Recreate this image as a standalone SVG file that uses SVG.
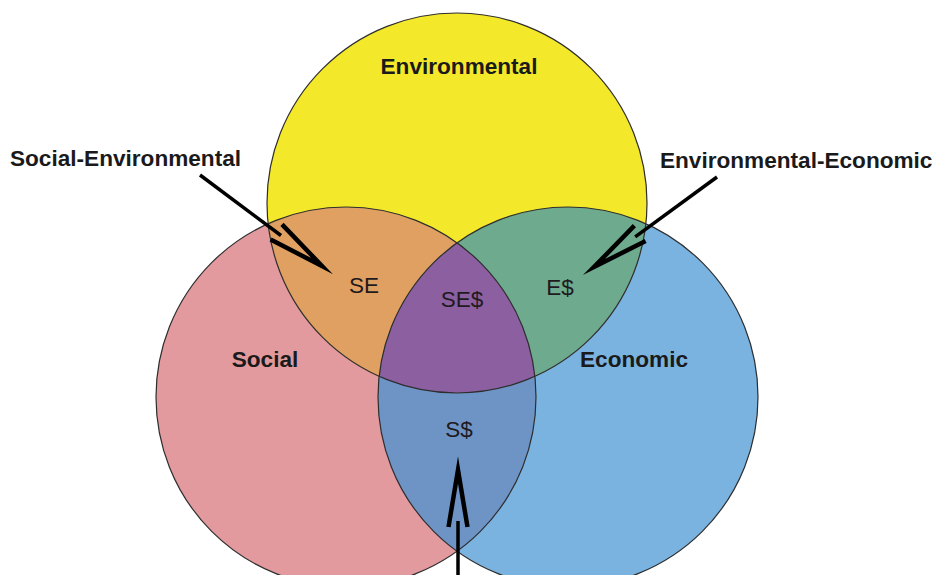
<svg xmlns="http://www.w3.org/2000/svg" xmlns:xlink="http://www.w3.org/1999/xlink" width="938" height="575" viewBox="0 0 938 575">
<style>
.outline{fill:none;stroke:#2e2e2e;stroke-width:1.2}
.big{font-family:"Liberation Sans",Arial,sans-serif;font-weight:bold;font-size:22.6px;fill:#1a1a1a}
.small{font-family:"Liberation Sans",Arial,sans-serif;font-size:22.5px;fill:#1e1a1e;text-anchor:middle}
.shaft{stroke:#000;stroke-width:3.5;fill:none}
.head{stroke:#000;stroke-width:4.5;fill:none;stroke-linejoin:miter;stroke-miterlimit:20}
</style>
<defs>
<clipPath id="cEnv"><circle cx="457" cy="203" r="190"/></clipPath>
<clipPath id="cSoc"><circle cx="346" cy="397" r="190"/></clipPath>
<clipPath id="cEco"><circle cx="568" cy="397" r="190"/></clipPath>
<path id="vhead" class="head" d="M-57,-9.5 L0,0 L-57,9.5"/>
</defs>
<rect width="938" height="575" fill="#fff"/>
<g id="social"><circle cx="346" cy="397" r="190" fill="#e29a9e"/></g>
<g id="economic"><circle cx="568" cy="397" r="190" fill="#7ab3e0"/></g>
<g id="environmental"><circle cx="457" cy="203" r="190" fill="#f4e82a"/></g>
<g id="social-environmental"><circle cx="457" cy="203" r="190" fill="#dfa061" clip-path="url(#cSoc)"/></g>
<g id="environmental-economic"><circle cx="457" cy="203" r="190" fill="#6eaa8e" clip-path="url(#cEco)"/></g>
<g id="social-economic"><circle cx="346" cy="397" r="190" fill="#6e94c6" clip-path="url(#cEco)"/></g>
<g id="all-three" clip-path="url(#cEnv)"><circle cx="346" cy="397" r="190" fill="#8b5fa0" clip-path="url(#cEco)"/></g>
<g id="outlines">
<circle class="outline" cx="346" cy="397" r="190"/>
<circle class="outline" cx="568" cy="397" r="190"/>
<circle class="outline" cx="457" cy="203" r="190"/>
</g>
<g id="labels">
<text class="big" x="459" y="74" text-anchor="middle">Environmental</text>
<text class="big" x="265" y="367" text-anchor="middle">Social</text>
<text class="big" x="634" y="367" text-anchor="middle">Economic</text>
<text class="big" x="10" y="166">Social-Environmental</text>
<text class="big" x="660" y="168">Environmental-Economic</text>
<text class="small" x="364" y="293">SE</text>
<text class="small" x="462" y="307">SE$</text>
<text class="small" x="560" y="295">E$</text>
<text class="small" x="459" y="437">S$</text>
</g>
<g id="connectors">
<line class="shaft" x1="200" y1="175" x2="281" y2="235.5"/>
<use xlink:href="#vhead" transform="translate(322,266) rotate(36.7)"/>
<line class="shaft" x1="717" y1="177" x2="635.2" y2="236.8"/>
<use xlink:href="#vhead" transform="translate(594,267) rotate(143.8)"/>
<line class="shaft" x1="458" y1="575" x2="458" y2="521"/>
<use xlink:href="#vhead" transform="translate(458,470) rotate(-90)"/>
</g>
</svg>
